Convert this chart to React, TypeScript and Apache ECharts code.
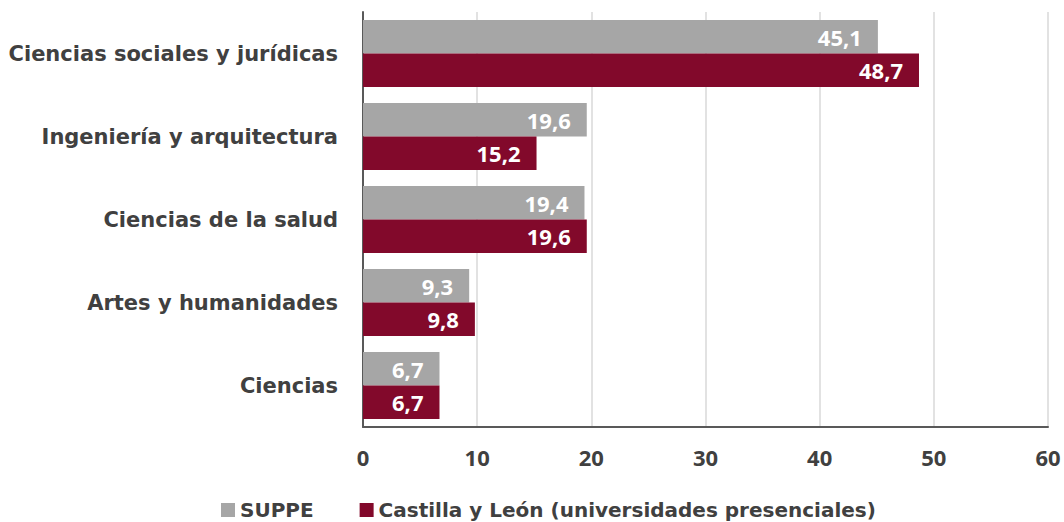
import React, { useEffect, useRef } from "react";
import * as echarts from "echarts";

const categories = [
  "Ciencias sociales y jurídicas",
  "Ingeniería y arquitectura",
  "Ciencias de la salud",
  "Artes y humanidades",
  "Ciencias",
];
const suppe = [45.1, 19.6, 19.4, 9.3, 6.7];
const castilla = [48.7, 15.2, 19.6, 9.8, 6.7];
const seriesNames = ["SUPPE", "Castilla y León (universidades presenciales)"];

const FONT = "'DejaVu Sans', 'Noto Sans', sans-serif";
const NUMFONT = "'Noto Sans', 'DejaVu Sans', sans-serif";

export default function App() {
  const ref = useRef<HTMLDivElement>(null);
  useEffect(() => {
    if (!ref.current) return;
    const chart = echarts.init(ref.current, undefined, { renderer: "svg" });
    const label = {
      show: true,
      position: "insideRight" as const,
      distance: 16,
      color: "#ffffff",
      fontFamily: NUMFONT,
      fontWeight: "bold" as const,
      fontSize: 22,
      formatter: (p: any) => String(p.value).replace(".", ","),
    };
    chart.setOption({
      animation: false,
      textStyle: { fontFamily: FONT },
      grid: { left: 363, right: 16, top: 12, bottom: 95, containLabel: false },
      legend: {
        bottom: -3,
        left: 216,
        itemWidth: 14,
        itemHeight: 14,
        itemGap: 46,
        icon: "rect",
        textStyle: { fontFamily: FONT, fontWeight: "bold", fontSize: 20, color: "#404040" },
        data: seriesNames,
      },
      xAxis: {
        type: "value",
        min: 0,
        max: 60,
        interval: 10,
        axisLine: { show: true, lineStyle: { color: "#595959", width: 2 } },
        axisTick: { show: false },
        splitLine: { show: true, lineStyle: { color: "#d9d9d9", width: 1.5 } },
        axisLabel: {
          color: "#404040",
          fontFamily: NUMFONT,
          fontWeight: "bold",
          fontSize: 22,
          margin: 19,
        },
      },
      yAxis: {
        type: "category",
        inverse: true,
        data: categories,
        axisLine: { show: true, lineStyle: { color: "#595959", width: 2 } },
        axisTick: { show: false },
        axisLabel: {
          color: "#404040",
          fontFamily: FONT,
          fontWeight: "bold",
          fontSize: 21,
          margin: 25,
        },
      },
      series: [
        {
          name: seriesNames[0],
          type: "bar",
          data: suppe,
          itemStyle: { color: "#a6a6a6" },
          barGap: "0%",
          barCategoryGap: "19%",
          label,
        },
        {
          name: seriesNames[1],
          type: "bar",
          data: castilla,
          itemStyle: { color: "#82092b" },
          barGap: "0%",
          barCategoryGap: "19%",
          label,
        },
      ],
    });
    return () => chart.dispose();
  }, []);
  return <div ref={ref} style={{ width: 1064, height: 522, position: "absolute", left: 0, top: 0 }} />;
}
